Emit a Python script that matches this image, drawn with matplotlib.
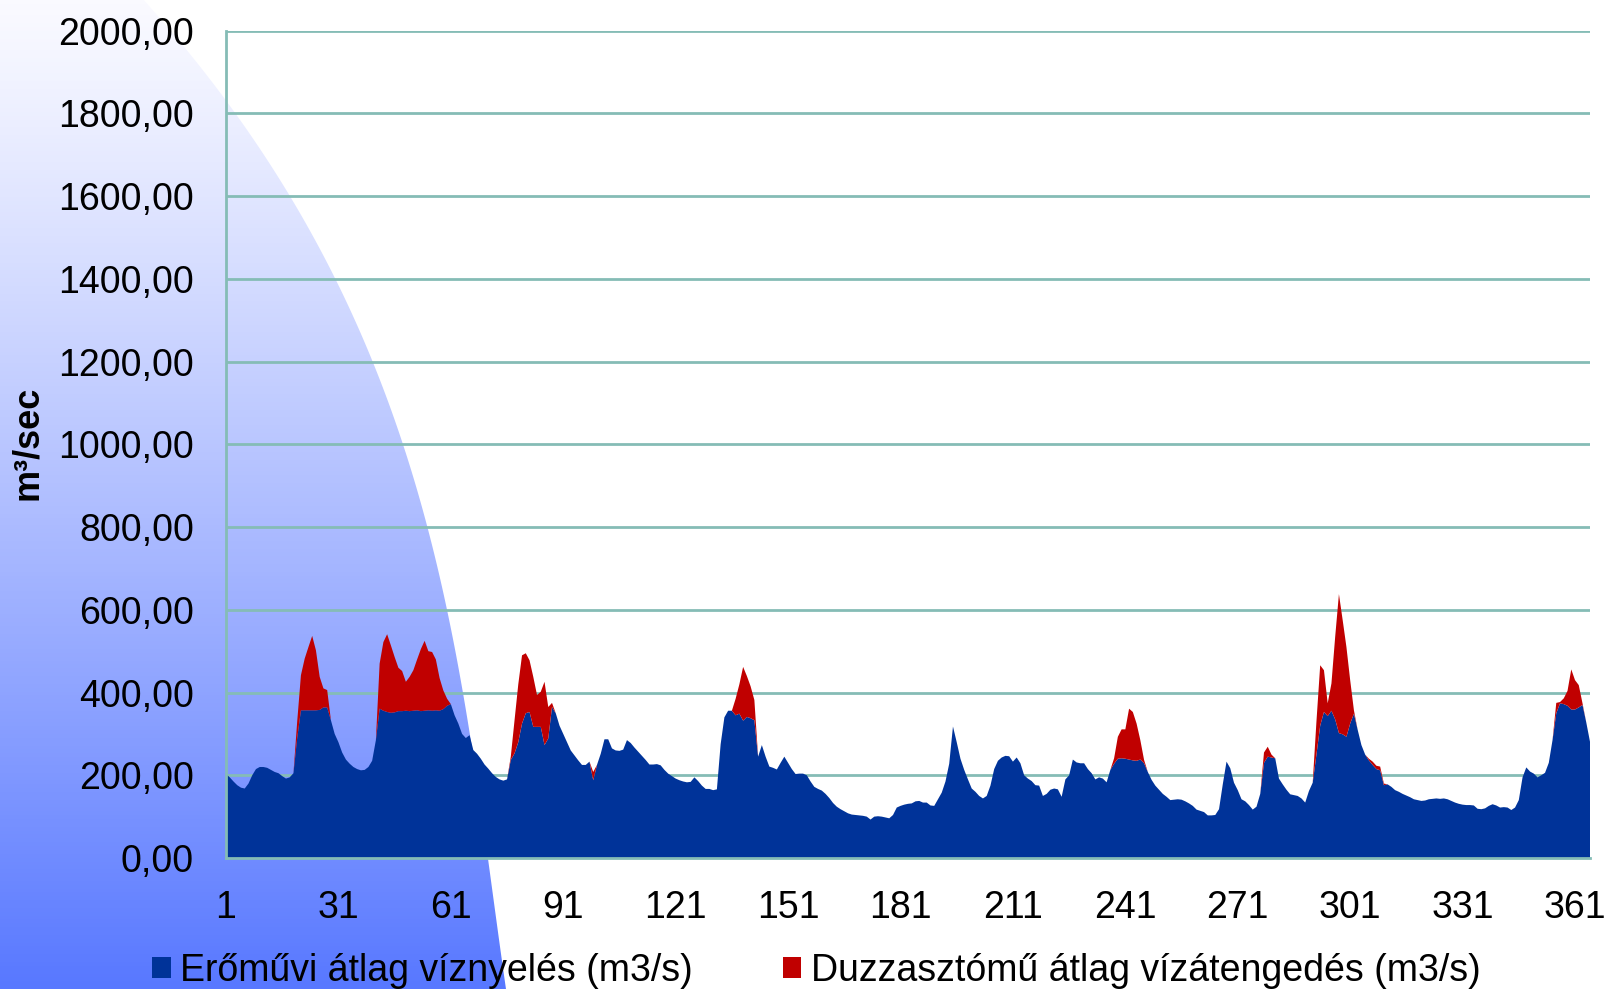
import matplotlib.pyplot as plt
import numpy as np
from matplotlib.patches import Polygon, Patch

plt.rcParams['font.family'] = ['Liberation Sans', 'DejaVu Sans']

# napi adatok (1..365)
days = np.arange(1, 366)

eromuvi = [
    203, 195, 185, 176, 170, 168, 180, 200, 215, 220,
    220, 218, 213, 208, 205, 198, 192, 195, 205, 290,
    357, 357, 357, 357, 357, 358, 364, 364, 333, 300,
    280, 255, 238, 228, 220, 215, 212, 213, 220, 235,
    285, 361, 356, 353, 351, 352, 355, 355, 356, 355,
    356, 357, 355, 356, 357, 356, 357, 356, 360, 368,
    372, 345, 325, 300, 290, 297, 261, 252, 240, 226,
    216, 205, 196, 190, 187, 190, 237, 253, 280, 325,
    350, 353, 317, 317, 317, 273, 289, 365, 350, 320,
    300, 280, 260, 248, 236, 225, 225, 233, 188, 225,
    252, 287, 287, 265, 260, 259, 262, 285, 278, 267,
    257, 247, 237, 226, 226, 227, 224, 213, 204, 198,
    192, 188, 185, 183, 184, 195, 186, 175, 167, 167,
    164, 166, 275, 340, 356, 356, 345, 349, 332, 341,
    338, 333, 245, 273, 245, 221, 218, 214, 230, 245,
    230, 215, 203, 204, 204, 200, 185, 172, 167, 163,
    155, 145, 133, 124, 118, 113, 108, 105, 104, 103,
    102, 100, 93, 100, 101, 100, 98, 96, 104, 122,
    126, 129, 131, 132, 137, 138, 134, 134, 127, 126,
    142, 158, 185, 228, 318, 280, 240, 213, 190, 168,
    160, 150, 144, 150, 175, 215, 235, 243, 247, 246,
    233, 243, 229, 200, 192, 186, 176, 175, 150, 155,
    165, 168, 166, 148, 190, 200, 238, 231, 229, 229,
    215, 205, 190, 195, 192, 183, 213, 228, 240, 241,
    240, 238, 236, 235, 238, 229, 208, 189, 175, 165,
    155, 148, 140, 141, 142, 141, 137, 132, 126, 117,
    114, 111, 103, 103, 104, 118, 178, 233, 217, 182,
    164, 142, 137, 128, 117, 124, 155, 230, 245, 243,
    241, 192, 178, 165, 154, 152, 150, 144, 134, 162,
    182, 250, 320, 353, 343, 356, 335, 302, 299, 293,
    325, 349, 310, 273, 250, 236, 225, 215, 212, 176,
    178, 172, 164, 160, 155, 151, 147, 142, 140, 138,
    139, 142, 143, 144, 143, 144, 142, 138, 134, 131,
    129, 128, 128, 127, 119, 118, 120, 126, 130, 127,
    122, 123, 122, 116, 122, 140, 195, 219, 209, 204,
    195, 200, 206, 230, 285, 350, 374, 372, 368, 359,
    359, 364, 370, 328, 281,
]

duzzaszto = [
    0, 0, 0, 0, 0, 0, 0, 0, 0, 0,
    0, 0, 0, 0, 0, 0, 0, 0, 0, 40,
    85, 125, 153, 180, 145, 80, 46, 42, 0, 0,
    0, 0, 0, 0, 0, 0, 0, 0, 0, 0,
    0, 109, 166, 188, 163, 134, 105, 97, 70, 83,
    98, 123, 150, 169, 143, 142, 123, 79, 45, 17,
    0, 0, 0, 0, 0, 0, 0, 0, 0, 0,
    0, 0, 0, 0, 0, 0, 8, 80, 140, 165,
    145, 125, 121, 77, 85, 153, 76, 10, 0, 0,
    0, 0, 0, 0, 0, 0, 0, 0, 20, 0,
    0, 0, 0, 0, 0, 0, 0, 0, 0, 0,
    0, 0, 0, 0, 0, 0, 0, 0, 0, 0,
    0, 0, 0, 0, 0, 0, 0, 0, 0, 0,
    0, 0, 0, 0, 0, 0, 40, 71, 130, 99,
    77, 49, 0, 0, 0, 0, 0, 0, 0, 0,
    0, 0, 0, 0, 0, 0, 0, 0, 0, 0,
    0, 0, 0, 0, 0, 0, 0, 0, 0, 0,
    0, 0, 0, 0, 0, 0, 0, 0, 0, 0,
    0, 0, 0, 0, 0, 0, 0, 0, 0, 0,
    0, 0, 0, 0, 0, 0, 0, 0, 0, 0,
    0, 0, 0, 0, 0, 0, 0, 0, 0, 0,
    0, 0, 0, 0, 0, 0, 0, 0, 0, 0,
    0, 0, 0, 0, 0, 0, 0, 0, 0, 0,
    0, 0, 0, 0, 0, 0, 0, 13, 53, 70,
    71, 123, 117, 90, 47, 8, 0, 0, 0, 0,
    0, 0, 0, 0, 0, 0, 0, 0, 0, 0,
    0, 0, 0, 0, 0, 0, 0, 0, 0, 0,
    0, 0, 0, 0, 0, 0, 0, 25, 24, 7,
    0, 0, 0, 0, 0, 0, 0, 0, 0, 0,
    0, 80, 146, 101, 31, 66, 200, 336, 276, 217,
    105, 8, 0, 0, 0, 4, 8, 8, 9, 4,
    0, 0, 0, 0, 0, 0, 0, 0, 0, 0,
    0, 0, 0, 0, 0, 0, 0, 0, 0, 0,
    0, 0, 0, 0, 0, 0, 0, 0, 0, 0,
    0, 0, 0, 0, 0, 0, 0, 0, 0, 0,
    0, 0, 0, 0, 0, 25, 3, 14, 36, 97,
    71, 54, 4, 0, 0,
]

yticks = np.arange(0, 2001, 200)
xticks = np.arange(1, 366, 30)
labels = ['Erőművi átlag víznyelés (m3/s)', 'Duzzasztómű átlag vízátengedés (m3/s)']
colors = ['#003399', '#C00000']

W, H = 1606, 989
fig = plt.figure(figsize=(W / 100, H / 100), dpi=100)

# háttér: kék színátmenetes ív a bal oldalon
bg = fig.add_axes([0, 0, 1, 1])
bg.set_xlim(0, W)
bg.set_ylim(H, 0)
bg.axis('off')
t = np.linspace(0, 1, 256) ** 1.15
top = np.array([250, 250, 255]) / 255
bot = np.array([88, 120, 255]) / 255
grad = (top[None, :] * (1 - t[:, None]) + bot[None, :] * t[:, None])[:, None, :]
im = bg.imshow(grad, extent=[0, W, H, 0], aspect='auto')
# ív széle (pixelben leolvasva)
edge_y = [0, 150, 570, 693, 750, 860, 989]
edge_x = [143, 262, 438, 460, 472, 493, 504]
py = np.linspace(0, H, 200)
px = np.polyval(np.polyfit(edge_y, edge_x, 3), py)
shape = Polygon(np.vstack([[[0, 0]], np.column_stack([px, py]), [[0, H]]]),
                closed=True, transform=bg.transData)
im.set_clip_path(shape)

ax = fig.add_axes([226 / W, 1 - 858 / H, (1590 - 226) / W, (858 - 30.7) / H])
ax.set_facecolor('none')
ax.stackplot(days, eromuvi, duzzaszto, colors=colors, linewidth=0)

ax.set_xlim(1, 365)
ax.set_ylim(0, 2000)
ax.set_yticks(yticks)
ax.set_yticklabels([f'{v:.2f}'.replace('.', ',') for v in yticks])
ax.set_xticks(xticks)
ax.grid(True, axis='y', color='#85bcb6', linewidth=2)
ax.set_axisbelow(True)
for s in ['top', 'right']:
    ax.spines[s].set_visible(False)
for s in ['left', 'bottom']:
    ax.spines[s].set_color('#85bcb6')
    ax.spines[s].set_linewidth(2)
ax.tick_params(axis='both', length=0, labelsize=27)
ax.tick_params(axis='y', pad=23)
ax.tick_params(axis='x', pad=23)

fig.text(27 / W, 1 - 443 / H, 'm³/sec', rotation=90, fontsize=26, fontweight='bold',
         ha='center', va='center')

handles = [Patch(facecolor=c) for c in colors]
fig.legend(handles, labels, loc='lower left', bbox_to_anchor=(118 / W, -0.034),
           ncol=2, frameon=False, fontsize=27, handlelength=0.5, handleheight=0.5,
           handletextpad=0.25, columnspacing=2.4)

fig.savefig('out.png', dpi=100)
